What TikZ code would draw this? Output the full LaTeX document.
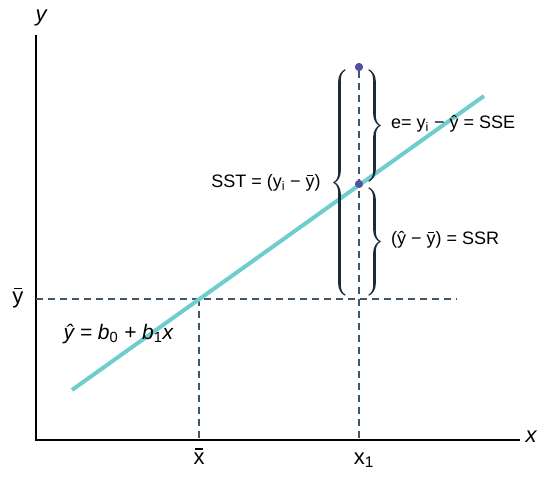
\documentclass[tikz,border=0pt]{standalone}
\usepackage{fontspec}
\setmainfont{Liberation Sans}
\usepackage{tikz}
\usetikzlibrary{positioning, decorations.pathreplacing, calligraphy}
\definecolor{fitteal}{HTML}{6FCDCD}
\definecolor{guide}{HTML}{3E566B}
\definecolor{datapt}{HTML}{5252A3}
\definecolor{bracecol}{HTML}{1C2B38}
\newcommand{\barred}[1]{\leavevmode\setbox0=\hbox{#1}\rlap{\hbox to \wd0{\hss\raisebox{0.66em}{\rule{0.72\wd0}{0.07em}}\hss}}\box0}

\begin{document}
\begin{tikzpicture}[
    x=1pt, y=1pt,
    axis/.style={line width=2.6pt, black},
    guideline/.style={guide, line width=1.3pt, dash pattern=on 7pt off 5pt},
    fitline/.style={fitteal, line width=4pt},
    dot/.style={circle, fill=datapt, inner sep=0pt, minimum size=8pt},
    brace/.style={decorate, decoration={calligraphic brace, amplitude=11pt}, pen colour={bracecol}, line width=2.6pt},
    lab/.style={font=\fontsize{18}{21}\selectfont, inner sep=1pt},
    big/.style={font=\fontsize{22}{26}\selectfont, inner sep=1pt},
    every node/.style={font=\fontsize{18}{21}\selectfont}
]
\useasboundingbox (0,0) rectangle (550,481);

% Axes
\coordinate (origin) at (36,41);
\coordinate (ytop) at (36,446);
\coordinate (xend) at (520,41);
\draw[axis] (ytop) -- (origin) -- (xend);
\node[big, font=\fontsize{22}{26}\selectfont\itshape] (ylab) at (41,463) {y};
\node[big, font=\fontsize{22}{26}\selectfont\itshape] (xlab) at (531,44) {x};

% Means
\coordinate (ybarL) at (36,182);
\coordinate (ybarR) at (457,182);
\coordinate (meanpt) at (199,182);
\coordinate (xbarfoot) at (199,41);
\draw[guideline] (ybarL) -- (ybarR);
\draw[guideline] (meanpt) -- (xbarfoot);
\node[big] (ybarlab) at (18,183) {\barred{y}};
\node[big] (xbarlab) at (199,25) {\barred{x}};

% Observation at x1
\node[dot] (yi) at (359,414) {};
\node[dot] (yhat) at (359,297) {};
\coordinate (x1foot) at (359,41);
\draw[guideline] (yi) -- (x1foot);
\node[big] (x1lab) at (364,21) {x\textsubscript{1}};

% Regression line
\coordinate (fitA) at (72,91);
\coordinate (fitB) at (484,385);
\draw[fitline] (fitA) -- (fitB);
\node[dot] at (yi) {};
\node[dot] at (yhat) {};
\node[anchor=west, font=\fontsize{21}{24}\selectfont\itshape] (eqn) at (60,147) {ŷ = b\textsubscript{\upshape 0} + b\textsubscript{\upshape 1}x};

% Braces
\coordinate (sstlo) at (345,186);
\coordinate (ssthi) at (345,411);
\coordinate (ssehi) at (369,411);
\coordinate (sselo) at (369,300);
\coordinate (ssrhi) at (369,293);
\coordinate (ssrlo) at (369,186);
\draw[brace] (sstlo) -- (ssthi);
\draw[brace] (ssehi) -- (sselo);
\draw[brace] (ssrhi) -- (ssrlo);
\node[lab] (sst) at (266,298) {SST = (y\textsubscript{i} − \barred{y})};
\node[lab, anchor=west] (sse) at (390,357) {e= y\textsubscript{i} − ŷ = SSE};
\node[lab, anchor=west] (ssr) at (390,241) {(ŷ − \barred{y}) = SSR};

\end{tikzpicture}
\end{document}
